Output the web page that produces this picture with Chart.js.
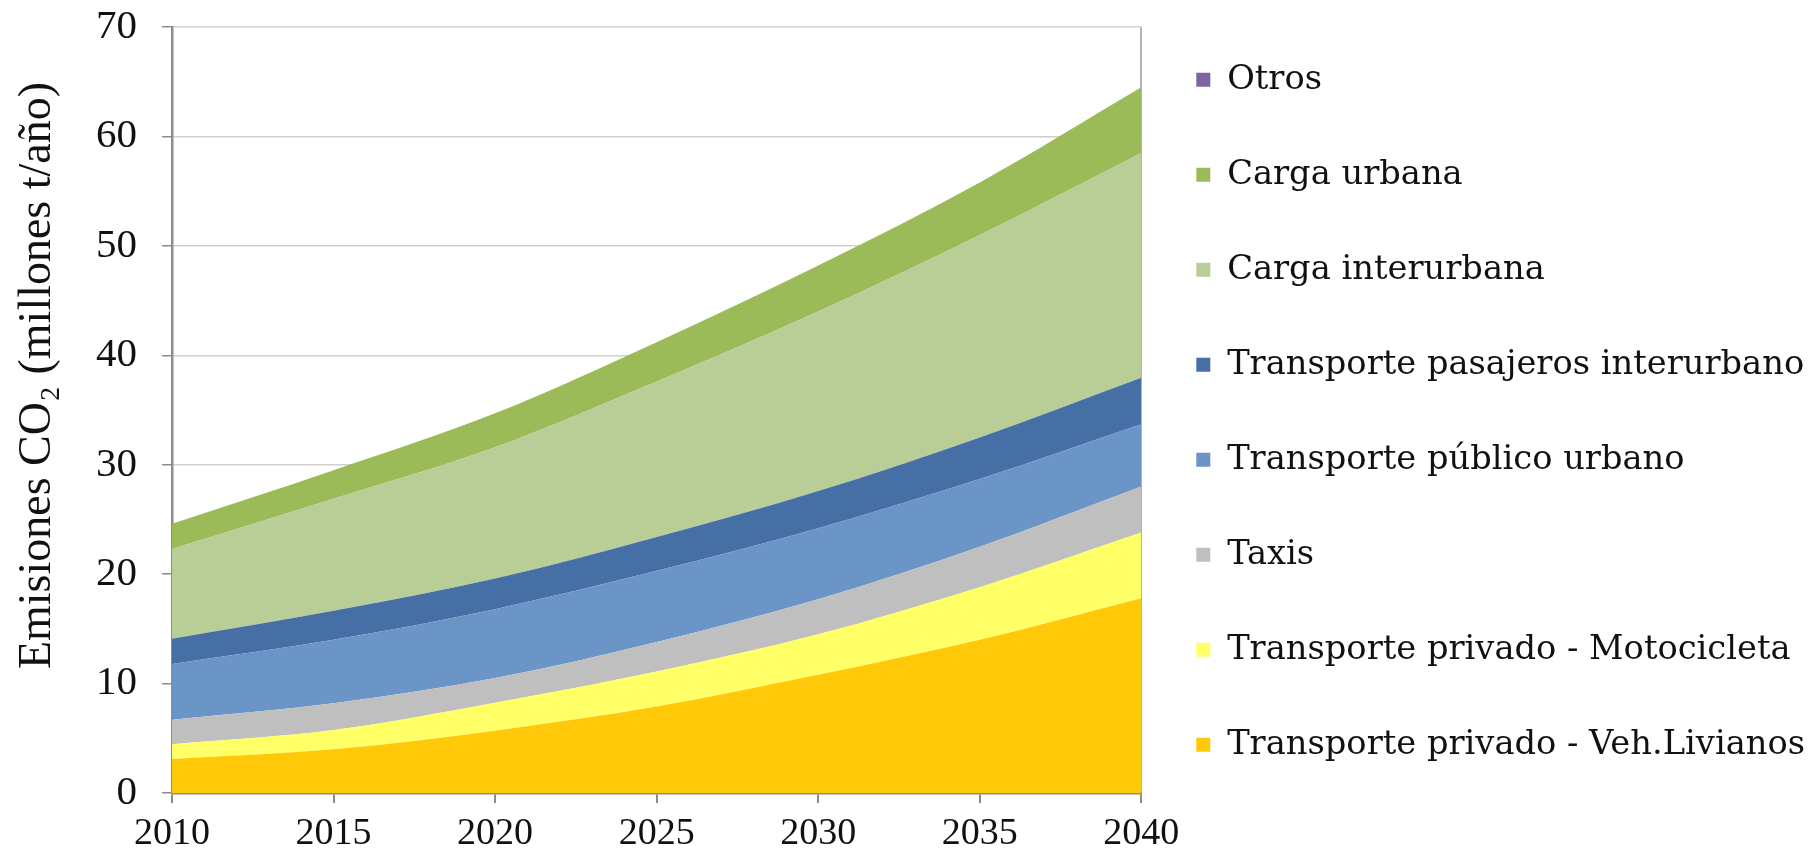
<!DOCTYPE html>
<html>
<head>
<meta charset="utf-8">
<title>Emisiones CO2</title>
<script src="https://cdn.jsdelivr.net/npm/chart.js@4.4.1/dist/chart.umd.min.js"></script>
<style>
    html, body { margin: 0; padding: 0; background: #fff; }
    #wrap { position: relative; width: 1815px; height: 852px; }
</style>
</head>
<body>
<div id="wrap"><canvas id="emisionesChart"></canvas></div>
<script>
// values (millones t/año, stacked from bottom)
const years = ['2010', '2015', '2020', '2025', '2030', '2035', '2040'];
const vehLivianos = [3.1, 4.0, 5.7, 7.9, 10.8, 14.0, 17.8];
const motocicleta = [1.35, 1.75, 2.55, 3.2, 3.7, 4.8, 6.0];
const taxis = [2.25, 2.45, 2.25, 2.7, 3.2, 3.7, 4.2];
const publicoUrbano = [5.1, 5.8, 6.3, 6.5, 6.5, 6.2, 5.7];
const pasajerosInterurbano = [2.3, 2.65, 2.8, 3.1, 3.4, 3.8, 4.25];
const cargaInterurbana = [8.2, 10.25, 12.0, 14.2, 16.4, 18.5, 20.55];
const cargaUrbana = [2.3, 2.6, 3.1, 3.6, 4.2, 4.8, 6.0];
const otros = [0, 0, 0, 0, 0, 0, 0];

const yTicks = [0, 10, 20, 30, 40, 50, 60, 70];

const series = [
    { label: 'Transporte privado - Veh.Livianos', data: vehLivianos, color: '#FFC90A' },
    { label: 'Transporte privado - Motocicleta', data: motocicleta, color: '#FFFF66' },
    { label: 'Taxis', data: taxis, color: '#BFBFBF' },
    { label: 'Transporte público urbano', data: publicoUrbano, color: '#6B95C7' },
    { label: 'Transporte pasajeros interurbano', data: pasajerosInterurbano, color: '#4670A5' },
    { label: 'Carga interurbana', data: cargaInterurbana, color: '#B9CD97' },
    { label: 'Carga urbana', data: cargaUrbana, color: '#9BBB59' },
    { label: 'Otros', data: otros, color: '#8064A2' }
];

Chart.defaults.font.family = "'Liberation Serif', serif";
Chart.defaults.color = '#111';

const datasets = series.map((s, i) => ({
    label: s.label,
    data: s.data,
    backgroundColor: s.color,
    borderColor: s.color,
    borderWidth: 0,
    pointRadius: 0,
    pointHoverRadius: 0,
    fill: i === 0 ? 'origin' : '-1',
    cubicInterpolationMode: 'monotone'
}));

new Chart(document.getElementById('emisionesChart'), {
    type: 'line',
    data: { labels: years, datasets: datasets },
    options: {
        responsive: true,
        maintainAspectRatio: false,
        devicePixelRatio: 1,
        animation: false,
        layout: { padding: { top: 8, right: 0, bottom: 0, left: 0 } },
        plugins: {
            tooltip: { enabled: false },
            legend: {
                position: 'right',
                align: 'start',
                reverse: true,
                maxWidth: 720,
                labels: {
                    boxWidth: 14,
                    boxHeight: 14,
                    padding: 55,
                    color: '#111',
                    font: { family: "'DejaVu Serif', serif", size: 33.7, lineHeight: '40px' },
                    // one-line arrays so the row height follows the font lineHeight
                    generateLabels: chart => Chart.defaults.plugins.legend.labels.generateLabels(chart)
                        .map(l => ({ ...l, text: [l.text] }))
                }
            }
        },
        scales: {
            x: {
                type: 'category',
                offset: false,
                ticks: {
                    autoSkip: false,
                    maxRotation: 0,
                    padding: 8,
                    color: '#111',
                    font: { size: 38 }
                },
                grid: {
                    color: ctx => ctx.index === years.length - 1 ? '#b3b3b3' : 'rgba(0,0,0,0)',
                    tickColor: '#8c8c8c',
                    tickLength: 10,
                    lineWidth: 2
                },
                border: { color: '#8c8c8c', width: 2.5 },
                afterFit: scale => { scale.height = 59; }
            },
            y: {
                stacked: true,
                min: yTicks[0],
                max: yTicks[yTicks.length - 1],
                ticks: {
                    stepSize: 10,
                    padding: 25,
                    color: '#111',
                    font: { size: 41, lineHeight: 0.1 }
                },
                grid: {
                    color: ctx => ctx.tick && ctx.tick.value === 0 ? 'rgba(0,0,0,0)' : '#d0d0d0',
                    tickColor: '#8c8c8c',
                    tickLength: 10,
                    lineWidth: 1.5
                },
                border: { color: '#8c8c8c', width: 2.5 },
                title: {
                    display: true,
                    text: '\u2003\u2002Emisiones CO\u2082 (millones t/año)',
                    color: '#111',
                    font: { size: 46 },
                    padding: { top: 10, bottom: 0 }
                },
                afterFit: scale => { scale.width = 172; }
            }
        }
    }
});
</script>
</body>
</html>
